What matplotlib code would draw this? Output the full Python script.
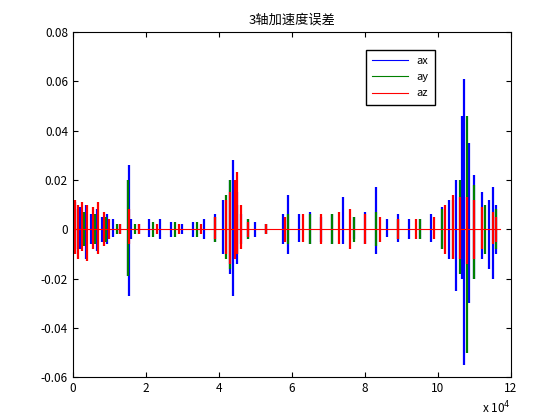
import matplotlib
matplotlib.use("Agg")
import matplotlib.pyplot as plt
from matplotlib.lines import Line2D

plt.rcParams['font.family'] = ['Noto Sans CJK SC', 'DejaVu Sans']

# x positions in units of 1e4 samples, with lower / upper extent of the trace there
ax_x = [0.05, 0.2, 0.35, 0.5, 0.65, 0.8, 0.95, 1.1, 1.3, 1.5, 1.55, 1.6, 1.8, 2.1, 2.4, 2.7, 3.0,
        3.3, 3.6, 3.9, 4.1, 4.3, 4.4, 4.5, 4.6, 4.8, 5.0, 5.3, 5.75, 5.9, 6.2, 6.5, 6.8, 7.1,
        7.4, 7.7, 8.0, 8.3, 8.6, 8.9, 9.2, 9.5, 9.8, 10.1, 10.3, 10.5, 10.65, 10.72, 10.85,
        11.0, 11.2, 11.4, 11.5, 11.6]
ax_lo = [-0.01, -0.008, -0.012, -0.006, -0.009, -0.005, -0.006, -0.003, -0.002, -0.019, -0.027,
         -0.004, -0.002, -0.003, -0.004, -0.003, -0.002, -0.003, -0.004, -0.005, -0.01, -0.018,
         -0.027, -0.014, -0.006, -0.004, -0.003, -0.002, -0.006, -0.01, -0.005, -0.006, -0.005,
         -0.006, -0.006, -0.004, -0.006, -0.01, -0.003, -0.005, -0.004, -0.004, -0.005, -0.008,
         -0.012, -0.025, -0.02, -0.055, -0.03, -0.02, -0.012, -0.016, -0.02, -0.01]
ax_hi = [0.011, 0.009, 0.01, 0.006, 0.008, 0.005, 0.006, 0.004, 0.002, 0.02, 0.026, 0.004, 0.002,
         0.004, 0.004, 0.003, 0.002, 0.003, 0.004, 0.006, 0.012, 0.02, 0.028, 0.015, 0.006, 0.004,
         0.003, 0.002, 0.006, 0.014, 0.006, 0.007, 0.005, 0.006, 0.013, 0.005, 0.007, 0.017,
         0.004, 0.006, 0.004, 0.004, 0.006, 0.009, 0.012, 0.02, 0.046, 0.061, 0.035, 0.022,
         0.015, 0.012, 0.017, 0.01]

ay_x = [0.05, 0.3, 0.6, 0.9, 1.2, 1.5, 1.7, 2.2, 2.8, 3.4, 3.9, 4.2, 4.3, 4.5, 4.8, 5.3, 5.9,
        6.5, 7.1, 7.7, 8.3, 8.9, 9.5, 10.1, 10.4, 10.6, 10.8, 11.0, 11.3, 11.6]
ay_lo = [-0.008, -0.007, -0.006, -0.005, -0.002, -0.019, -0.002, -0.003, -0.003, -0.003, -0.005,
         -0.012, -0.016, -0.01, -0.004, -0.002, -0.006, -0.006, -0.006, -0.005, -0.007, -0.004,
         -0.004, -0.008, -0.012, -0.018, -0.05, -0.02, -0.01, -0.008]
ay_hi = [0.008, 0.007, 0.006, 0.005, 0.002, 0.02, 0.002, 0.003, 0.003, 0.003, 0.005, 0.014,
         0.02, 0.01, 0.004, 0.002, 0.006, 0.006, 0.006, 0.005, 0.007, 0.004, 0.004, 0.008, 0.012,
         0.02, 0.046, 0.018, 0.01, 0.008]

az_x = [0.05, 0.15, 0.25, 0.4, 0.55, 0.7, 0.85, 1.0, 1.3, 1.55, 1.8, 2.3, 2.9, 3.5, 3.9, 4.2,
        4.3, 4.45, 4.5, 4.6, 4.8, 5.3, 5.8, 6.3, 6.8, 7.3, 7.6, 8.0, 8.4, 8.9, 9.4, 9.9, 10.2,
        10.4, 10.6, 10.8, 11.0, 11.2, 11.5, 11.6]
az_lo = [-0.01, -0.012, -0.009, -0.013, -0.008, -0.01, -0.007, -0.004, -0.002, -0.006, -0.002,
         -0.002, -0.002, -0.002, -0.004, -0.01, -0.014, -0.012, -0.01, -0.008, -0.003, -0.002,
         -0.005, -0.005, -0.006, -0.006, -0.008, -0.006, -0.005, -0.004, -0.004, -0.004, -0.01,
         -0.012, -0.012, -0.014, -0.012, -0.008, -0.006, -0.005]
az_hi = [0.012, 0.01, 0.011, 0.01, 0.009, 0.011, 0.007, 0.004, 0.002, 0.008, 0.002, 0.002, 0.002,
         0.002, 0.005, 0.012, 0.015, 0.02, 0.023, 0.01, 0.003, 0.002, 0.005, 0.006, 0.006, 0.007,
         0.008, 0.006, 0.005, 0.004, 0.004, 0.005, 0.01, 0.014, 0.013, 0.013, 0.012, 0.009,
         0.007, 0.005]

series = [("ax", "#0000ff", ax_x, ax_lo, ax_hi),
          ("ay", "#008000", ay_x, ay_lo, ay_hi),
          ("az", "#ff0000", az_x, az_lo, az_hi)]

fig = plt.figure(figsize=(5.6, 4.2), dpi=100)
ax = fig.add_axes([0.130, 0.102, 0.7825, 0.822])

for name, color, xs, lo, hi in series:
    ax.vlines([v * 1e4 for v in xs], lo, hi, colors=color, linewidth=1.6)
# flat baseline between bursts
ax.plot([0, 11.7e4], [0, 0], color="#ff0000", linewidth=0.8)

ax.set_xlim(0, 12e4)
ax.set_ylim(-0.06, 0.08)
ax.set_xticks([i * 2e4 for i in range(7)])
ax.set_xticklabels([str(i * 2) for i in range(7)])
ax.set_yticks([-0.06 + 0.02 * i for i in range(8)])
ax.set_yticklabels(["-0.06", "-0.04", "-0.02", "0", "0.02", "0.04", "0.06", "0.08"])
ax.tick_params(direction="in", labelsize=8.5, top=True, right=True)
ax.text(1.0, -0.065, r"x 10$^4$", transform=ax.transAxes, ha="right", va="top", fontsize=8.5)
ax.set_title("3轴加速度误差", fontsize=9.5)

handles = [Line2D([], [], color=c, lw=0.8) for _, c, *_ in series]
ax.legend(handles, [s[0] for s in series], loc="upper right", bbox_to_anchor=(0.84, 0.965),
          fontsize=8, fancybox=False, edgecolor="black", handlelength=3.2,
          labelspacing=0.55, borderpad=0.6, framealpha=1)

fig.savefig("out.png", dpi=100)
